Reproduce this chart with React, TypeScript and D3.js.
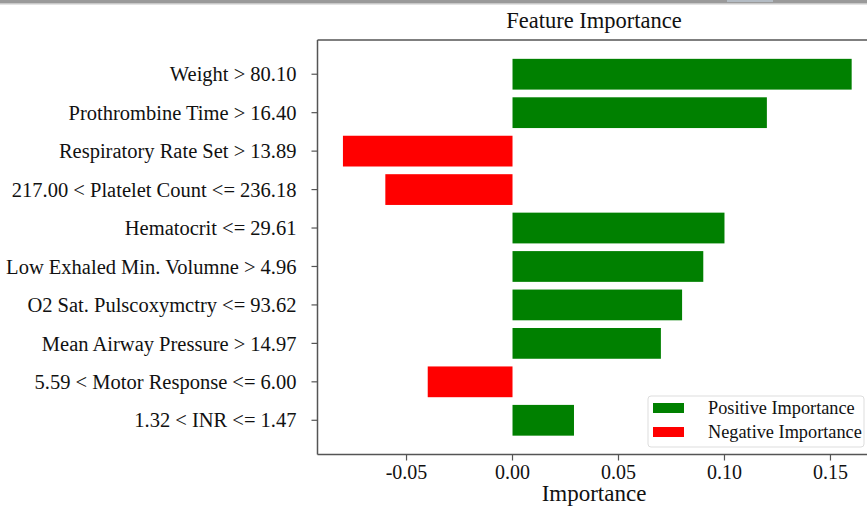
import React from "react";
import * as d3 from "d3";

const features = [
  "Weight > 80.10",
  "Prothrombine Time > 16.40",
  "Respiratory Rate Set > 13.89",
  "217.00 < Platelet Count <= 236.18",
  "Hematocrit <= 29.61",
  "Low Exhaled Min. Volumne > 4.96",
  "O2 Sat. Pulscoxymctry <= 93.62",
  "Mean Airway Pressure > 14.97",
  "5.59 < Motor Response <= 6.00",
  "1.32 < INR <= 1.47",
];
const importance = [0.16, 0.12, -0.08, -0.06, 0.1, 0.09, 0.08, 0.07, -0.04, 0.029];
const xTicks = [-0.05, 0, 0.05, 0.1, 0.15];
const legendItems = [
  { label: "Positive Importance", color: "#008000" },
  { label: "Negative Importance", color: "#ff0000" },
];

const W = 867;
const H = 506;
const FONT = "'Liberation Serif', 'Times New Roman', serif";

export default function App() {
  const x = d3.scaleLinear().domain([-0.092, 0.172]).range([317.5, 877.1]);
  const y = d3.scaleLinear().domain([-0.89, 9.89]).range([40, 454.5]);
  const step = y(1) - y(0);
  const barH = step * 0.8;
  const left = x(-0.092);
  const top = y(-0.89);
  const bottom = y(9.89);
  const axisColor = "#555";

  return (
    <svg
      width={W}
      height={H}
      style={{ position: "absolute", left: 0, top: 0, background: "#fff" }}
      fontFamily={FONT}
    >
      <rect x={0} y={0} width={W} height={H} fill="#fff" />
      {/* top border of screenshot */}
      <rect x={0} y={0} width={W} height={4} fill="#9a9a9a" />
      <rect x={0} y={3} width={W} height={1.5} fill="#c8c8c8" />
      <rect x={727} y={0} width={46} height={2} fill="#b4bcc4" />

      <text x={594} y={28} textAnchor="middle" fontSize={22.5} fill="#111">
        Feature Importance
      </text>

      {/* bars */}
      {importance.map((v, i) => (
        <rect
          key={i}
          x={Math.min(x(0), x(v))}
          y={y(i) - barH / 2}
          width={Math.abs(x(v) - x(0))}
          height={barH}
          fill={v >= 0 ? "#008000" : "#ff0000"}
        />
      ))}

      {/* spines */}
      <line x1={left} x2={W} y1={top} y2={top} stroke={axisColor} strokeWidth={1.5} />
      <line x1={left} x2={left} y1={top} y2={bottom} stroke={axisColor} strokeWidth={1.5} />
      <line x1={left} x2={W} y1={bottom} y2={bottom} stroke={axisColor} strokeWidth={1.5} />

      {/* y ticks */}
      {features.map((f, i) => (
        <g key={f}>
          <line x1={left - 6} x2={left} y1={y(i)} y2={y(i)} stroke={axisColor} strokeWidth={1.2} />
          <text x={left - 21} y={y(i)} dy="0.35em" textAnchor="end" fontSize={20.5} fill="#111">
            {f}
          </text>
        </g>
      ))}

      {/* x ticks */}
      {xTicks.map((t) => (
        <g key={t}>
          <line x1={x(t)} x2={x(t)} y1={bottom} y2={bottom + 6} stroke={axisColor} strokeWidth={1.2} />
          <text x={x(t)} y={479} textAnchor="middle" fontSize={20} fill="#111">
            {t < 0 ? "-" + Math.abs(t).toFixed(2) : t.toFixed(2)}
          </text>
        </g>
      ))}
      <text x={594} y={501} textAnchor="middle" fontSize={23} fill="#111">
        Importance
      </text>

      {/* legend */}
      <rect x={648} y={396} width={216} height={51} rx={3} fill="#fff" stroke="#ddd" strokeWidth={1} />
      {legendItems.map((it, i) => (
        <g key={it.label}>
          <rect x={653} y={403 + i * 24} width={31} height={10} fill={it.color} />
          <text x={708} y={408 + i * 24} dy="0.35em" fontSize={18.3} fill="#111">
            {it.label}
          </text>
        </g>
      ))}
    </svg>
  );
}
